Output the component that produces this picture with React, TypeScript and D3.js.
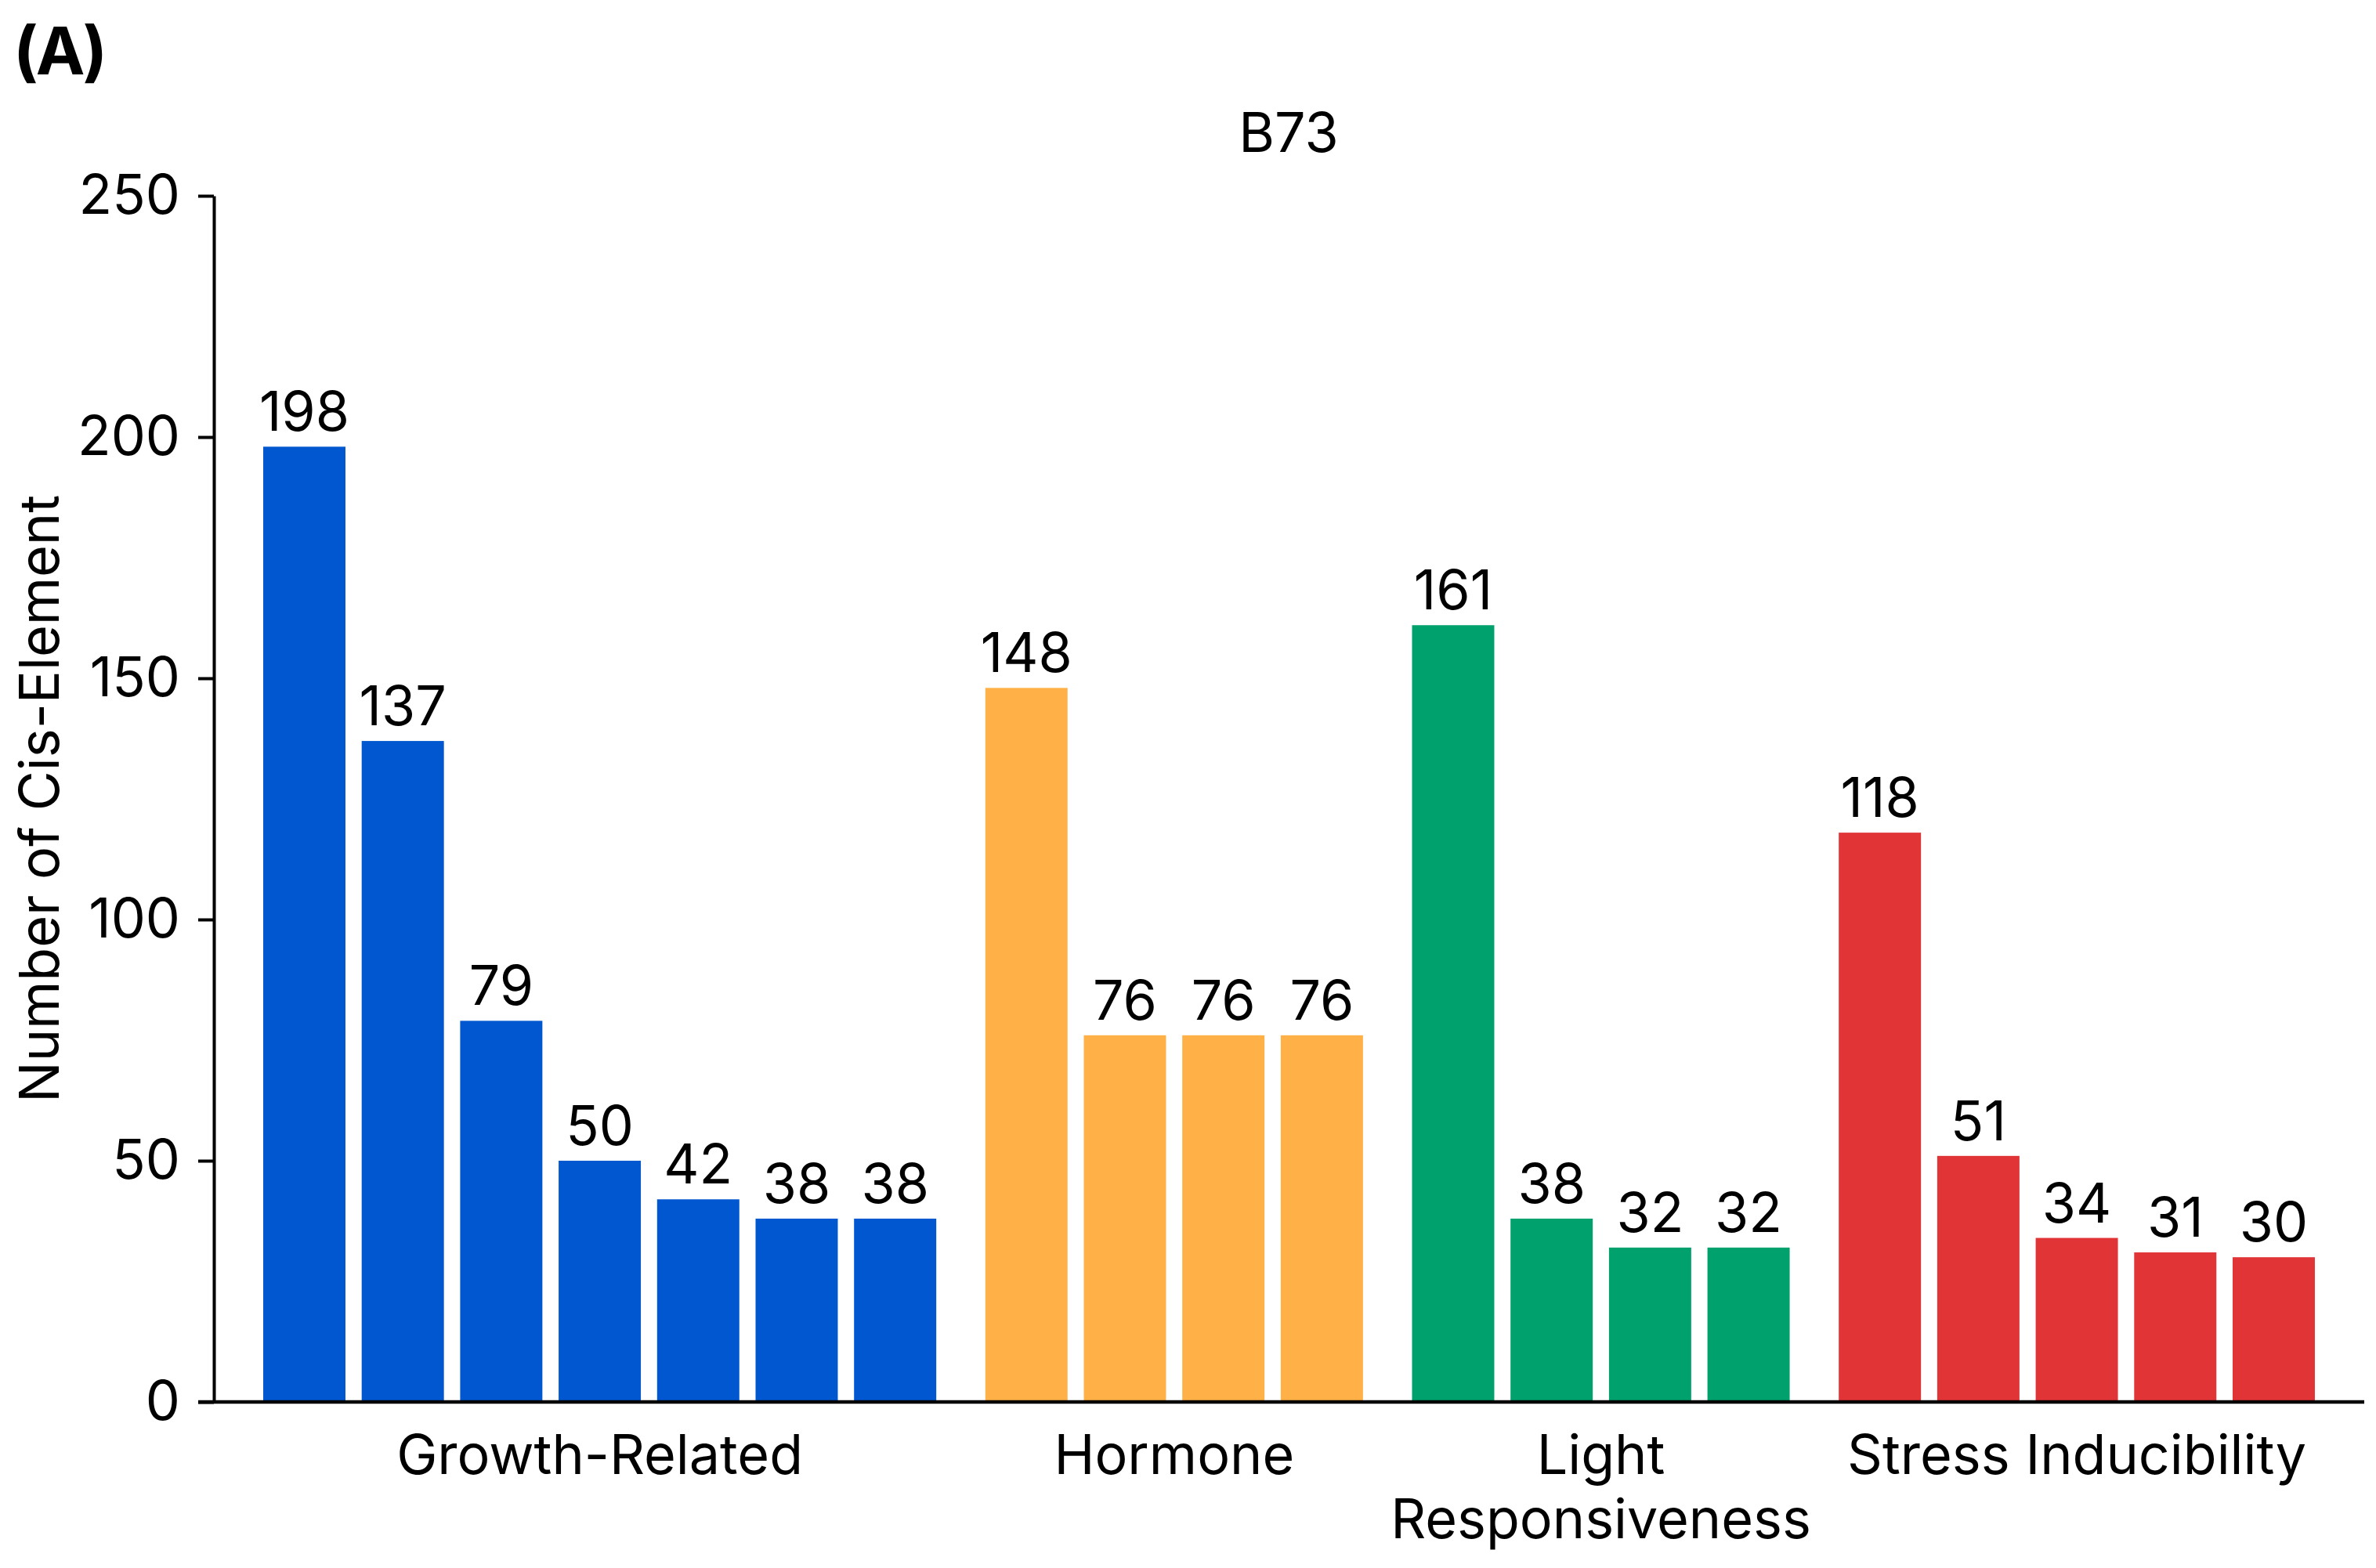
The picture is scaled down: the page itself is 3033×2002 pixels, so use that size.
import { useRef, useEffect } from 'react';
import * as d3 from 'd3';

const groupNames = ['Growth-Related', 'Hormone', 'Light Responsiveness', 'Stress Inducibility'];
const growthValues = [198, 137, 79, 50, 42, 38, 38];
const hormoneValues = [148, 76, 76, 76];
const lightValues = [161, 38, 32, 32];
const stressValues = [118, 51, 34, 31, 30];
const groupColors = ['#0057CF', '#FFB046', '#00A16D', '#E03436'];
const yTicks = [0, 50, 100, 150, 200, 250];
const chartTitle = 'B73';
const yTitle = 'Number of Cis-Element';

const W = 3033;
const H = 2002;
const FONT = 'Inter, "Noto Sans", sans-serif';

type Bar = { value: number; group: number; slot: number };

const groupValues = [growthValues, hormoneValues, lightValues, stressValues];
const bars: Bar[] = [];
let idx = 0;
groupValues.forEach((vals, g) => {
  vals.forEach((v) => {
    // each new group is pushed right by a third of a bar pitch
    bars.push({ value: v, group: g, slot: idx + g / 3 });
    idx += 1;
  });
});

export default function App() {
  const gy = useRef<SVGGElement>(null);

  const margin = { top: 250, bottom: 212, left: 273, right: 15 };
  const y = d3.scaleLinear().domain([0, 250]).range([H - margin.bottom, margin.top]);
  const x = d3.scaleLinear().domain([0, 20]).range([336, 2850]);
  const barWidth = (x(1) - x(0)) * 0.835;

  useEffect(() => {
    const el = gy.current;
    if (!el) return;
    const sel = d3.select(el);
    sel.call(d3.axisLeft(y).tickValues(yTicks).tickSize(20).tickSizeOuter(0).tickPadding(23));
    sel.select('.domain').attr('stroke', '#000').attr('stroke-width', 4);
    sel.selectAll('.tick line').attr('stroke', '#000').attr('stroke-width', 4);
    sel
      .selectAll('.tick text')
      .attr('font-family', FONT)
      .attr('font-size', 70)
      .attr('fill', '#000');
    return () => {
      sel.selectAll('*').remove();
    };
  }, [y]);

  const groupCenters = groupValues.map((_, g) => {
    const gb = bars.filter((b) => b.group === g);
    const first = x(gb[0].slot);
    const last = x(gb[gb.length - 1].slot) + barWidth;
    return (first + last) / 2;
  });

  return (
    <svg width={W} height={H} style={{ position: 'absolute', left: 0, top: 0, background: '#fff' }}>
      <text x={17} y={95} fontFamily={FONT} fontWeight={700} fontSize={84} letterSpacing={-3}>
        (A)
      </text>
      <text x={1645} y={194} textAnchor="middle" fontFamily={FONT} fontSize={70}>
        {chartTitle}
      </text>
      <text
        transform={`translate(75,${(y(0) + y(250)) / 2}) rotate(-90)`}
        textAnchor="middle"
        fontFamily={FONT}
        fontSize={70}
      >
        {yTitle}
      </text>
      {bars.map((b, i) => (
        <g key={i}>
          <rect
            x={x(b.slot)}
            y={y(b.value)}
            width={barWidth}
            height={y(0) - y(b.value)}
            fill={groupColors[b.group]}
          />
          <text
            x={x(b.slot) + barWidth / 2}
            y={y(b.value) - 20}
            textAnchor="middle"
            fontFamily={FONT}
            fontSize={70}
          >
            {b.value}
          </text>
        </g>
      ))}
      <g ref={gy} transform={`translate(${margin.left},0)`} />
      <line x1={253} x2={W - margin.right} y1={y(0)} y2={y(0)} stroke="#000" strokeWidth={4.5} />
      {groupNames.map((name, g) => {
        const words = name === 'Light Responsiveness' ? ['Light', 'Responsiveness'] : [name];
        return (
          <text key={name} textAnchor="middle" fontFamily={FONT} fontSize={70}>
            {words.map((w, k) => (
              <tspan key={k} x={groupCenters[g]} y={1882 + k * 82}>
                {w}
              </tspan>
            ))}
          </text>
        );
      })}
    </svg>
  );
}
